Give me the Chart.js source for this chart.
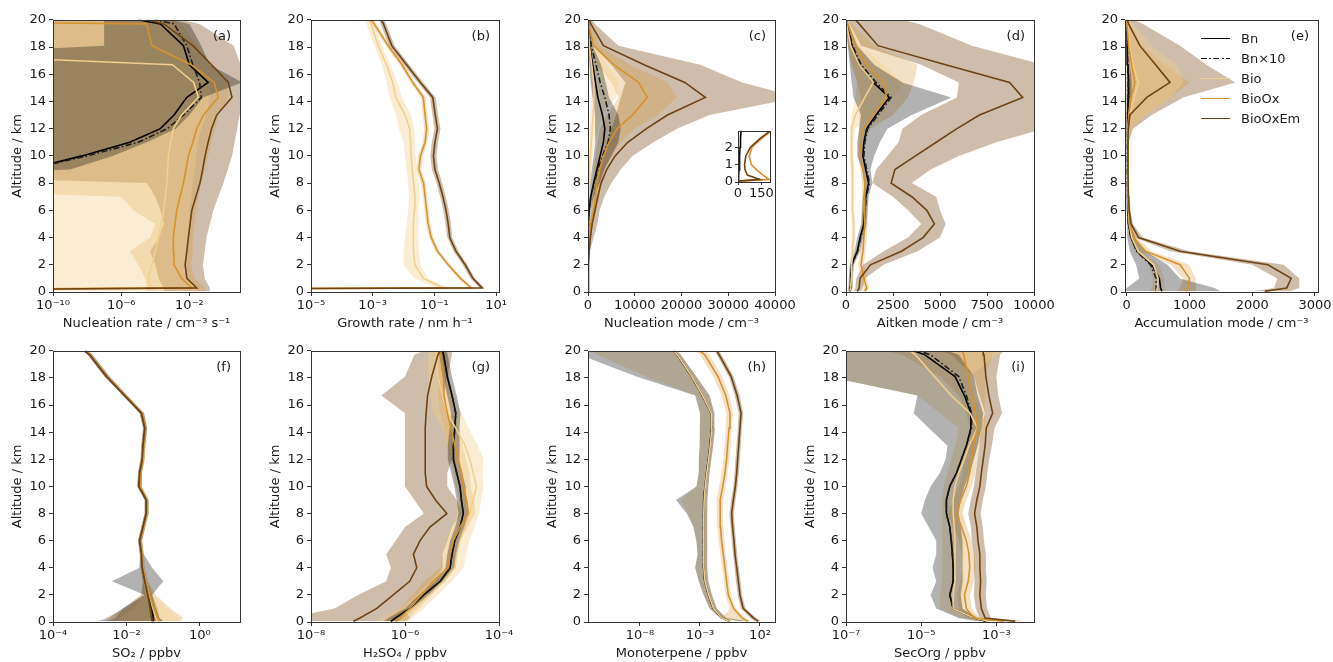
<!DOCTYPE html>
<html lang="en">
<head>
<meta charset="UTF-8">
<title>Vertical profiles</title>
<script src="https://cdn.jsdelivr.net/npm/chart.js"></script>
<style>
  html, body { margin: 0; background: #fff; overflow: hidden; }
  #fig { position: relative; width: 1333px; height: 662px; overflow: hidden; font-family: "DejaVu Sans", sans-serif; color: #1a1a1a; }
  #fig canvas { position: absolute; }
  .tag { position: absolute; width: 40px; text-align: right; font-size: 13px; line-height: 16px; }
  #legend { position: absolute; left: 1201px; top: 28px; font-size: 13px; }
  #legend .row { height: 20.2px; display: flex; align-items: center; white-space: nowrap; }
  #legend i { display: inline-block; width: 29px; margin-right: 11px; height: 0; }
  #legend i.dashdot { height: 1.5px; background: repeating-linear-gradient(to right, #1c1c1c 0 6px, transparent 6px 8.5px, #1c1c1c 8.5px 10px, transparent 10px 12.5px); }
</style>
</head>
<body>
<div id="fig"></div>
<script>
// model levels (km) shared by every profile
const ALT = [0.05, 0.3, 1, 2, 3, 4, 5, 6, 7, 8, 9, 10, 11, 12, 13, 14.3, 15.4, 16.7, 18.1, 19.7, 20];
// log10 value used where a profile drops to zero on a log axis
const O = -30;

// (a) nucleation rate, log10 cm-3 s-1
const aBn      = [O, O, O, O, O, O, O, O, O, O, -11.5, -8.3, -5.5, -3.7, -2.9, -2.15, -0.9, -2.0, -2.35, -3.7, -5.0];
const aBn10    = [O, O, O, O, O, O, O, O, O, O, -11.5, -8.0, -5.0, -3.3, -2.35, -1.3, -1.4, -1.8, -2.15, -2.9, -4.0];
const aBio     = [O, -4.3, -4.4, -4.2, -4.0, -3.8, -3.65, -3.5, -3.42, -3.33, -3.28, -3.23, -3.1, -2.94, -2.45, -1.47, -1.75, -3.0, O, O, O];
const aBioOx   = [O, -1.86, -2.45, -2.9, -2.92, -2.94, -2.85, -2.74, -2.55, -2.35, -2.2, -2.06, -1.8, -1.57, -1.18, -0.3, -0.55, -1.9, -4.2, -4.5, O];
const aBioOxEm = [O, -1.57, -2.15, -2.25, -2.15, -2.06, -1.96, -1.86, -1.62, -1.38, -1.22, -1.08, -0.9, -0.7, -0.4, 0.5, 0.28, -0.7, -1.8, -3.5, -4.5];
const aBnLo      = [O, O, O, O, O, O, O, O, O, O, O, O, O, O, O, O, O, O, -7, -7, -7];
const aBnHi      = [O, O, O, O, O, O, O, O, O, O, -9.0, -6.5, -4.5, -2.8, -2.0, -1.2, 1.1, -0.8, -1.3, -2.0, -3.0];
const aBioLo     = [O, O, O, O, O, O, O, O, O, O, O, O, O, O, O, O, O, O, O, O, O];
const aBioHi     = [-1.5, -1.6, -2.2, -2.2, -2.1, -2.1, -2.0, -2.0, -1.9, -1.8, -1.7, -1.6, -1.5, -1.3, -1.0, -0.8, -0.8, -1.8, -2.5, -3.0, -3.5];
const aBioOxLo   = [-4.5, -4.5, -4.6, -5.0, -5.5, -4.3, -4.0, -5.3, -6.0, O, O, O, O, O, O, O, O, O, O, O, O];
const aBioOxHi   = [-1.0, -1.1, -1.7, -1.9, -1.8, -1.8, -1.7, -1.6, -1.5, -1.3, -1.1, -0.9, -0.7, -0.5, -0.3, 0.3, 0.2, -0.7, -1.5, -2.5, -3.0];
const aBioOxEmLo = [-3.5, -3.5, -3.8, -4.0, -4.3, -3.8, -3.5, -3.7, -4.0, -4.5, O, O, O, O, O, O, O, O, O, O, O];
const aBioOxEmHi = [-0.8, -0.8, -1.1, -1.2, -1.1, -1.0, -0.8, -0.6, -0.3, 0.0, 0.25, 0.5, 0.65, 0.8, 0.95, 1.3, 1.3, 1.0, 0.6, -1.4, -2.5];

// (b) growth rate, log10 nm h-1
const bBio     = [O, -0.7, -1.36, -1.63, -1.68, -1.68, -1.68, -1.65, -1.63, -1.67, -1.72, -1.75, -1.77, -1.8, -1.95, -2.25, -2.35, -2.55, -2.82, -3.05, -3.12];
const bBioOx   = [O, 0.2, -0.15, -0.55, -0.9, -1.1, -1.2, -1.25, -1.3, -1.35, -1.5, -1.45, -1.3, -1.25, -1.3, -1.36, -1.7, -2.05, -2.5, -2.95, -3.05];
const bBioOxEm = [O, 0.55, 0.25, 0.0, -0.3, -0.5, -0.55, -0.62, -0.72, -0.84, -0.98, -1.03, -0.98, -0.9, -0.97, -1.05, -1.45, -1.9, -2.38, -2.65, -2.72];
const bBioLo     = [O, -0.9, -1.65, -2.0, -2.0, -1.95, -1.9, -1.85, -1.82, -1.85, -1.9, -1.95, -2.0, -2.15, -2.25, -2.45, -2.55, -2.7, -2.95, -3.2, -3.25];
const bBioHi     = [O, -0.5, -1.2, -1.45, -1.5, -1.52, -1.52, -1.5, -1.48, -1.5, -1.55, -1.6, -1.62, -1.65, -1.75, -2.05, -2.2, -2.42, -2.7, -2.95, -3.0];
const bBioOxLo   = [O, 0.12, -0.22, -0.62, -0.97, -1.17, -1.27, -1.32, -1.37, -1.43, -1.58, -1.53, -1.38, -1.33, -1.38, -1.44, -1.78, -2.13, -2.58, -3.03, -3.13];
const bBioOxHi   = [O, 0.27, -0.08, -0.48, -0.83, -1.03, -1.13, -1.18, -1.23, -1.28, -1.42, -1.37, -1.22, -1.17, -1.22, -1.28, -1.62, -1.97, -2.42, -2.87, -2.97];
const bBioOxEmLo = [O, 0.47, 0.17, -0.08, -0.38, -0.58, -0.64, -0.71, -0.81, -0.93, -1.08, -1.13, -1.08, -1.0, -1.06, -1.14, -1.54, -1.99, -2.47, -2.74, -2.81];
const bBioOxEmHi = [O, 0.62, 0.32, 0.07, -0.22, -0.42, -0.46, -0.53, -0.63, -0.75, -0.88, -0.93, -0.88, -0.8, -0.88, -0.96, -1.36, -1.81, -2.29, -2.56, -2.63];

// (c) nucleation mode, cm-3
const cBn      = [0, 3, 9, 13, 20, 40, 100, 250, 600, 1200, 1900, 2600, 3300, 3600, 3100, 2100, 1600, 1000, 400, 100, 30];
const cBn10    = [0, 3, 9, 13, 20, 40, 100, 250, 600, 1300, 2100, 3100, 4300, 4800, 4500, 3600, 2600, 1700, 700, 150, 50];
const cBio     = [0, 1, 2, 3, 10, 20, 50, 100, 150, 250, 350, 500, 700, 900, 1100, 1300, 1200, 800, 300, 50, 0];
const cBioOx   = [0, 180, 85, 90, 200, 300, 600, 1200, 1600, 1900, 2500, 3300, 4500, 6200, 9500, 12700, 10800, 5500, 1200, 150, 0];
const cBioOxEm = [0, 80, 42, 80, 250, 500, 900, 1500, 2100, 2800, 4000, 5800, 8500, 12500, 17000, 25100, 20700, 12000, 3300, 600, 300];
const cBnLo      = [0, 0, 0, 0, 0, 0, 50, 150, 300, 500, 800, 1200, 1500, 1600, 1500, 1000, 600, 300, 100, 0, 0];
const cBnHi      = [0, 10, 20, 30, 50, 100, 300, 600, 1200, 2500, 3500, 5000, 6500, 7000, 6500, 4500, 3800, 2800, 1000, 300, 100];
const cBioLo     = [0, 0, 0, 0, 0, 0, 0, 0, 50, 100, 150, 200, 300, 400, 500, 700, 600, 300, 100, 0, 0];
const cBioHi     = [0, 5, 10, 20, 40, 60, 100, 200, 300, 500, 700, 1000, 1500, 2200, 3000, 6000, 6500, 4000, 1500, 300, 50];
const cBioOxLo   = [0, 120, 50, 50, 100, 150, 300, 600, 800, 1000, 1200, 1600, 2000, 2500, 4000, 6500, 5000, 2000, 300, 0, 0];
const cBioOxHi   = [0, 250, 130, 140, 300, 500, 1000, 1800, 2400, 2800, 3500, 5000, 7000, 10000, 15000, 19000, 17000, 9000, 2500, 500, 100];
const cBioOxEmLo = [0, 40, 20, 40, 100, 100, 300, 700, 1000, 1500, 2000, 3000, 4000, 5000, 6000, 7000, 8000, 5000, 1000, 100, 0];
const cBioOxEmHi = [0, 150, 80, 150, 400, 1200, 2000, 2500, 3500, 5000, 7000, 9500, 14000, 19000, 26000, 45000, 33000, 24000, 6500, 1500, 800];

// (c) inset: lowest 3 km of the nucleation mode
const insAlt      = [0.05, 0.15, 0.4, 0.7, 1, 1.5, 2, 2.5, 3];
const insBn       = [0, 3, 5, 7, 9, 11, 13, 16, 20];
const insBio      = [0, 1, 1, 1, 2, 2, 3, 3, 4];
const insBioOx    = [0, 200, 160, 120, 85, 72, 90, 150, 220];
const insBioOxEm  = [0, 140, 60, 45, 42, 50, 80, 140, 215];

// (d) Aitken mode, cm-3
const dBn      = [200, 230, 250, 300, 600, 750, 950, 1000, 1050, 1200, 1050, 900, 950, 1100, 1600, 2300, 1450, 700, 300, 50, 0];
const dBn10    = [200, 230, 250, 320, 620, 780, 970, 1020, 1080, 1250, 1100, 950, 1000, 1150, 1700, 2400, 1600, 800, 350, 60, 0];
const dBio     = [200, 250, 280, 300, 350, 400, 400, 350, 350, 350, 330, 300, 300, 300, 500, 1000, 1450, 700, 250, 30, 0];
const dBioOx   = [1000, 1100, 950, 800, 900, 950, 1000, 1000, 1000, 1000, 900, 800, 800, 900, 1400, 2150, 2000, 1100, 500, 100, 0];
const dBioOxEm = [600, 700, 750, 1300, 2950, 4100, 4700, 4300, 3500, 2400, 2600, 3700, 4800, 5900, 7100, 9400, 8700, 5300, 1700, 700, 500];
const dBnLo      = [100, 130, 150, 200, 450, 600, 800, 850, 900, 1000, 850, 600, 600, 700, 800, 400, 300, 200, 100, 0, 0];
const dBnHi      = [300, 330, 350, 420, 750, 900, 1100, 1150, 1200, 1400, 1300, 1500, 1800, 2200, 3500, 5600, 3000, 1500, 600, 150, 50];
const dBioLo     = [100, 150, 180, 200, 250, 300, 300, 250, 250, 250, 230, 200, 200, 200, 300, 500, 600, 300, 100, 0, 0];
const dBioHi     = [300, 350, 380, 400, 450, 500, 500, 450, 450, 450, 430, 400, 400, 500, 1500, 2500, 3000, 2000, 700, 200, 50];
const dBioOxLo   = [850, 950, 800, 650, 750, 800, 850, 850, 850, 850, 750, 650, 650, 700, 700, 800, 600, 300, 100, 0, 0];
const dBioOxHi   = [1150, 1250, 1100, 950, 1050, 1100, 1150, 1150, 1150, 1150, 1050, 950, 1000, 1300, 2500, 3300, 3600, 3800, 1500, 300, 50];
const dBioOxEmLo = [400, 500, 550, 900, 2000, 3300, 4000, 3300, 2500, 1400, 1600, 2200, 2800, 3000, 4000, 5900, 6000, 4000, 800, 200, 100];
const dBioOxEmHi = [800, 900, 1000, 2000, 3800, 5000, 5300, 5000, 4800, 3500, 4500, 6000, 8000, 10500, 11000, 11000, 11000, 10500, 6700, 3900, 3000];

// (e) accumulation mode, cm-3
const eBn      = [560, 540, 520, 400, 170, 70, 30, 20, 15, 12, 12, 12, 12, 15, 20, 25, 30, 20, 10, 5, 0];
const eBn10    = [470, 470, 470, 380, 160, 65, 28, 18, 14, 11, 11, 11, 11, 14, 18, 22, 25, 18, 9, 4, 0];
const eBio     = [470, 490, 500, 430, 180, 80, 40, 30, 20, 15, 15, 15, 15, 20, 40, 120, 185, 100, 40, 10, 0];
const eBioOx   = [950, 980, 1000, 850, 300, 110, 50, 35, 25, 20, 20, 20, 20, 25, 30, 70, 130, 80, 30, 5, 0];
const eBioOxEm = [2200, 2550, 2620, 2250, 850, 190, 70, 40, 30, 25, 20, 20, 20, 25, 50, 320, 690, 460, 210, 30, 10];
const eBnLo      = [-50, 0, 200, 150, 50, 20, 10, 5, 5, 5, 5, 5, 5, 0, 0, 0, 0, 0, 0, 0, 0];
const eBnHi      = [1500, 1400, 850, 650, 300, 130, 60, 40, 30, 25, 25, 25, 25, 40, 60, 70, 80, 60, 30, 10, 5];
const eBioLo     = [350, 400, 420, 350, 120, 50, 20, 15, 10, 8, 8, 8, 8, 0, 0, 0, 0, 0, 0, 0, 0];
const eBioHi     = [600, 600, 600, 520, 250, 120, 60, 45, 35, 25, 25, 25, 25, 60, 300, 700, 900, 800, 400, 100, 20];
const eBioOxLo   = [800, 850, 900, 700, 220, 70, 30, 20, 15, 12, 12, 12, 12, 0, 0, 0, 0, 0, 0, 0, 0];
const eBioOxHi   = [1100, 1100, 1100, 1000, 400, 160, 70, 50, 40, 30, 30, 30, 30, 80, 300, 700, 1000, 600, 250, 50, 10];
const eBioOxEmLo = [2000, 2350, 2400, 2000, 700, 120, 40, 25, 20, 15, 12, 12, 12, 0, 0, 0, 0, 100, 50, 0, 0];
const eBioOxEmHi = [2600, 2750, 2750, 2500, 1000, 250, 100, 60, 45, 35, 30, 30, 30, 100, 400, 900, 1730, 1270, 850, 260, 100];

// (f) SO2, log10 ppbv
const fBn      = [-1.27, -1.27, -1.31, -1.4, -1.49, -1.56, -1.58, -1.63, -1.54, -1.45, -1.45, -1.65, -1.63, -1.56, -1.54, -1.49, -1.58, -2.04, -2.53, -2.99, -3.12];
const fBn10    = [-1.27, -1.27, -1.31, -1.4, -1.49, -1.56, -1.58, -1.63, -1.54, -1.45, -1.45, -1.65, -1.63, -1.56, -1.54, -1.49, -1.58, -2.04, -2.53, -2.99, -3.12];
const fBio     = [-1.15, -1.2, -1.28, -1.38, -1.48, -1.55, -1.57, -1.62, -1.53, -1.44, -1.44, -1.64, -1.62, -1.55, -1.53, -1.48, -1.57, -2.03, -2.52, -2.98, -3.11];
const fBioOx   = [-1.1, -1.15, -1.25, -1.38, -1.48, -1.55, -1.58, -1.62, -1.54, -1.45, -1.44, -1.64, -1.62, -1.56, -1.53, -1.48, -1.58, -2.04, -2.53, -2.99, -3.12];
const fBioOxEm = [-1.3, -1.32, -1.36, -1.42, -1.5, -1.57, -1.59, -1.64, -1.55, -1.46, -1.46, -1.66, -1.64, -1.57, -1.55, -1.5, -1.59, -2.05, -2.54, -3.0, -3.13];
const fBnLo      = [-2.8, -2.5, -2.1, -1.5, -2.4, -1.65, -1.63, -1.68, -1.59, -1.5, -1.5, -1.7, -1.68, -1.61, -1.59, -1.54, -1.64, -2.1, -2.6, -3.06, -3.2];
const fBnHi      = [-1.0, -1.1, -1.2, -1.3, -1.0, -1.3, -1.53, -1.58, -1.49, -1.4, -1.4, -1.6, -1.58, -1.51, -1.49, -1.44, -1.52, -1.98, -2.46, -2.92, -3.05];
const fBioLo     = [-2.0, -2.2, -1.8, -1.5, -1.55, -1.6, -1.62, -1.67, -1.58, -1.49, -1.49, -1.69, -1.67, -1.6, -1.58, -1.53, -1.62, -2.08, -2.57, -3.03, -3.16];
const fBioHi     = [-0.5, -0.6, -0.9, -1.25, -1.42, -1.5, -1.53, -1.57, -1.48, -1.39, -1.39, -1.59, -1.57, -1.5, -1.48, -1.43, -1.51, -1.97, -2.46, -2.92, -3.06];
const fBioOxLo   = [-2.2, -2.6, -2.0, -1.55, -1.55, -1.6, -1.63, -1.67, -1.59, -1.5, -1.49, -1.69, -1.67, -1.61, -1.58, -1.53, -1.63, -2.09, -2.58, -3.04, -3.17];
const fBioOxHi   = [-0.55, -0.45, -0.8, -1.2, -1.42, -1.5, -1.53, -1.57, -1.49, -1.4, -1.39, -1.59, -1.57, -1.51, -1.48, -1.43, -1.53, -1.99, -2.48, -2.94, -3.07];
const fBioOxEmLo = [-2.6, -2.3, -2.1, -1.6, -1.56, -1.62, -1.64, -1.69, -1.6, -1.51, -1.51, -1.71, -1.69, -1.62, -1.6, -1.55, -1.64, -2.1, -2.59, -3.05, -3.18];
const fBioOxEmHi = [-1.0, -1.1, -1.15, -1.3, -1.44, -1.52, -1.54, -1.59, -1.5, -1.41, -1.41, -1.61, -1.59, -1.52, -1.5, -1.45, -1.54, -2.0, -2.49, -2.95, -3.08];

// (g) H2SO4, log10 ppbv
const gBn      = [-6.3, -6.2, -5.9, -5.6, -5.25, -5.04, -5.0, -4.94, -4.83, -4.76, -4.8, -4.83, -4.9, -4.97, -4.97, -4.94, -4.92, -5.0, -5.1, -5.18, -5.2];
const gBn10    = [-6.3, -6.2, -5.9, -5.6, -5.25, -5.04, -5.0, -4.94, -4.83, -4.76, -4.8, -4.83, -4.9, -4.97, -4.97, -4.94, -4.92, -5.0, -5.1, -5.18, -5.2];
const gBio     = [-6.2, -6.1, -5.82, -5.47, -5.18, -4.94, -4.9, -4.83, -4.72, -4.62, -4.55, -4.48, -4.55, -4.62, -4.72, -4.92, -5.1, -5.2, -5.3, -5.33, -5.35];
const gBioOx   = [-6.2, -6.1, -5.9, -5.65, -5.4, -5.08, -5.04, -4.97, -4.83, -4.65, -4.69, -4.76, -4.8, -4.87, -4.94, -5.02, -5.1, -5.17, -5.18, -5.24, -5.28];
const gBioOxEm = [-7.1, -6.96, -6.6, -6.25, -5.9, -5.75, -5.82, -5.68, -5.47, -5.11, -5.35, -5.54, -5.57, -5.57, -5.57, -5.57, -5.55, -5.52, -5.43, -5.3, -5.25];
const gBnLo      = [-6.45, -6.35, -6.0, -5.7, -5.35, -5.14, -5.1, -5.04, -4.93, -4.86, -4.9, -4.95, -5.02, -5.09, -5.09, -5.05, -5.02, -5.1, -5.2, -5.27, -5.3];
const gBnHi      = [-6.15, -6.05, -5.8, -5.5, -5.15, -4.94, -4.9, -4.84, -4.73, -4.66, -4.7, -4.71, -4.78, -4.85, -4.85, -4.83, -4.82, -4.9, -5.0, -5.09, -5.1];
const gBioLo     = [-6.6, -6.5, -6.1, -5.75, -5.45, -5.2, -5.15, -5.1, -5.0, -4.9, -4.85, -4.8, -4.9, -5.0, -5.1, -5.2, -5.4, -5.45, -5.5, -5.5, -5.5];
const gBioHi     = [-5.9, -5.85, -5.6, -5.3, -5.0, -4.75, -4.7, -4.63, -4.52, -4.42, -4.38, -4.33, -4.35, -4.33, -4.45, -4.65, -4.8, -4.95, -5.1, -5.15, -5.2];
const gBioOxLo   = [-6.5, -6.4, -6.1, -5.85, -5.6, -5.25, -5.2, -5.12, -5.0, -4.82, -4.85, -4.92, -4.97, -5.03, -5.1, -5.18, -5.25, -5.3, -5.3, -5.35, -5.4];
const gBioOxHi   = [-5.95, -5.9, -5.7, -5.45, -5.2, -4.92, -4.88, -4.82, -4.67, -4.5, -4.53, -4.6, -4.63, -4.7, -4.78, -4.86, -4.95, -5.03, -5.05, -5.12, -5.15];
const gBioOxEmLo = [-8.5, -8.5, -7.5, -7.0, -6.4, -6.3, -6.4, -6.2, -6.0, -5.6, -5.8, -6.0, -6.0, -6.0, -6.0, -6.0, -6.0, -6.5, -6.0, -5.8, -5.6];
const gBioOxEmHi = [-6.0, -5.9, -6.0, -5.6, -5.3, -5.2, -5.2, -5.1, -5.0, -4.8, -4.9, -5.1, -5.1, -5.0, -5.0, -5.0, -5.1, -5.2, -5.1, -5.0, -5.0];

// (h) monoterpene, log10 ppbv
const hBn      = [-0.5, -1.2, -1.9, -2.3, -2.6, -2.7, -2.7, -2.7, -2.7, -2.7, -2.67, -2.58, -2.45, -2.3, -2.17, -2.03, -2.08, -2.8, -3.7, -4.9, -5.2];
const hBn10    = [-0.5, -1.2, -1.9, -2.3, -2.6, -2.7, -2.7, -2.7, -2.7, -2.7, -2.67, -2.58, -2.45, -2.3, -2.17, -2.03, -2.08, -2.8, -3.7, -4.9, -5.2];
const hBio     = [-0.5, -1.2, -1.88, -2.28, -2.58, -2.68, -2.68, -2.68, -2.68, -2.68, -2.65, -2.56, -2.43, -2.28, -2.15, -2.01, -2.06, -2.78, -3.68, -4.88, -5.18];
const hBioOx   = [1.0, 0.5, -0.2, -0.64, -0.78, -0.92, -1.06, -1.2, -1.28, -1.33, -1.3, -1.1, -0.92, -0.78, -0.7, -0.58, -0.5, -0.85, -1.5, -2.6, -3.0];
const hBioOxEm = [1.86, 1.44, 0.6, 0.33, 0.2, 0.06, -0.08, -0.17, -0.28, -0.36, -0.22, -0.05, 0.06, 0.14, 0.22, 0.33, 0.42, 0.1, -0.4, -1.4, -1.6];
const hBnLo      = [0.3, -1.3, -2.2, -2.7, -3.1, -3.4, -3.2, -3.3, -3.55, -4.1, -5.0, -3.3, -3.1, -3.1, -3.05, -3.0, -3.0, -3.4, -8.3, -13, -13];
const hBnHi      = [1.0, -0.8, -1.6, -2.0, -2.3, -2.4, -2.4, -2.4, -2.4, -2.4, -2.35, -2.3, -2.2, -2.05, -1.9, -1.75, -1.8, -2.2, -3.3, -4.6, -4.9];
const hBioLo     = [0.3, -1.3, -2.2, -2.7, -3.1, -3.4, -3.2, -3.3, -3.5, -4.0, -4.6, -3.3, -3.1, -3.1, -3.05, -3.0, -3.0, -3.3, -7.5, -11.5, -12];
const hBioHi     = [1.0, -0.8, -1.6, -2.0, -2.3, -2.4, -2.4, -2.4, -2.4, -2.4, -2.35, -2.3, -2.2, -2.05, -1.9, -1.75, -1.8, -2.2, -3.3, -4.6, -4.9];
const hBioOxLo   = [0.6, -1.2, -0.5, -0.9, -1.0, -1.15, -1.3, -1.45, -1.55, -1.6, -1.6, -1.4, -1.2, -1.05, -0.95, -0.85, -0.8, -1.2, -1.9, -3.0, -3.4];
const hBioOxHi   = [1.3, 0.8, 0.0, -0.4, -0.55, -0.7, -0.85, -0.95, -1.05, -1.1, -1.05, -0.85, -0.7, -0.55, -0.45, -0.35, -0.25, -0.55, -1.15, -2.2, -2.6];
const hBioOxEmLo = [1.6, 1.2, 0.4, 0.15, 0.0, -0.12, -0.25, -0.35, -0.45, -0.55, -0.4, -0.22, -0.12, -0.04, 0.04, 0.15, 0.22, -0.1, -0.6, -1.6, -1.8];
const hBioOxEmHi = [2.1, 1.7, 0.8, 0.5, 0.38, 0.24, 0.1, 0.0, -0.1, -0.18, -0.04, 0.12, 0.24, 0.32, 0.4, 0.5, 0.6, 0.3, -0.2, -1.2, -1.4];

// (i) secondary organics, log10 ppbv
const iBn      = [-3.27, -3.6, -4.15, -4.24, -4.15, -4.15, -4.17, -4.2, -4.24, -4.33, -4.33, -4.24, -4.06, -3.93, -3.8, -3.68, -3.68, -3.85, -4.1, -4.9, -5.2];
const iBn10    = [-3.27, -3.6, -4.15, -4.24, -4.15, -4.15, -4.17, -4.2, -4.24, -4.33, -4.33, -4.24, -4.06, -3.93, -3.8, -3.66, -3.66, -3.8, -4.0, -4.75, -5.05];
const iBio     = [-3.2, -3.6, -4.15, -4.15, -4.1, -4.1, -4.1, -4.1, -4.12, -4.15, -4.15, -4.1, -4.0, -3.85, -3.73, -3.5, -3.7, -4.2, -4.65, -5.15, -5.3];
const iBioOx   = [-2.8, -3.6, -3.8, -3.85, -3.75, -3.71, -3.73, -3.8, -3.93, -4.06, -3.95, -3.8, -3.71, -3.66, -3.62, -3.5, -3.56, -3.65, -3.75, -3.87, -3.9];
const iBioOxEm = [-2.5, -3.3, -3.4, -3.44, -3.42, -3.44, -3.44, -3.49, -3.52, -3.58, -3.52, -3.44, -3.4, -3.35, -3.3, -3.27, -3.1, -3.2, -3.28, -3.33, -3.35];
const iBnLo      = [-3.5, -4.0, -4.6, -4.75, -4.6, -4.7, -4.6, -4.6, -4.8, -5.0, -4.9, -4.75, -4.5, -4.35, -4.3, -4.8, -5.2, -5.1, -7.5, -7.5, -7.5];
const iBnHi      = [-2.5, -3.5, -3.9, -3.95, -3.9, -3.9, -3.9, -3.9, -3.95, -4.0, -3.95, -3.85, -3.7, -3.6, -3.5, -3.4, -3.35, -3.5, -3.6, -4.0, -4.3];
const iBioLo     = [-3.5, -4.0, -4.5, -4.5, -4.45, -4.45, -4.45, -4.45, -4.45, -4.45, -4.45, -4.4, -4.3, -4.2, -4.1, -4.0, -4.5, -5.1, -7.5, -7.5, -7.5];
const iBioHi     = [-2.5, -3.4, -3.9, -3.9, -3.85, -3.85, -3.85, -3.85, -3.85, -3.9, -3.9, -3.85, -3.75, -3.6, -3.5, -3.3, -3.4, -3.6, -3.7, -3.0, -2.8];
const iBioOxLo   = [-3.0, -3.8, -4.0, -4.05, -3.95, -3.9, -3.92, -4.0, -4.15, -4.3, -4.15, -4.0, -3.9, -3.85, -3.8, -3.7, -3.8, -4.0, -4.5, -5.5, -6.0];
const iBioOxHi   = [-2.5, -3.45, -3.65, -3.7, -3.6, -3.56, -3.58, -3.65, -3.78, -3.9, -3.8, -3.65, -3.56, -3.5, -3.45, -3.3, -3.3, -3.3, -3.3, -3.1, -3.0];
const iBioOxEmLo = [-2.7, -3.45, -3.55, -3.6, -3.58, -3.6, -3.6, -3.65, -3.68, -3.75, -3.68, -3.6, -3.55, -3.5, -3.45, -3.42, -3.3, -3.45, -3.6, -4.2, -4.5];
const iBioOxEmHi = [-2.2, -3.15, -3.25, -3.28, -3.26, -3.28, -3.28, -3.33, -3.36, -3.42, -3.36, -3.28, -3.24, -3.19, -3.12, -3.05, -2.85, -2.95, -3.0, -2.9, -2.8];

const Y_TICKS = [0, 2, 4, 6, 8, 10, 12, 14, 16, 18, 20];

const COLORS = { Bn: '#000000', Bn10: '#1c1c1c', Bio: '#f2cf8c', BioOx: '#d6922e', BioOxEm: '#6e4313' };
const SHADE = { Bn: 'rgba(0,0,0,0.3)', Bio: 'rgba(242,207,140,0.38)', BioOx: 'rgba(214,146,46,0.28)', BioOxEm: 'rgba(120,72,20,0.36)' };
// first dataset is drawn last, so BioOxEm ends up on top
const LINE_ORDER = ['BioOxEm', 'BioOx', 'Bio', 'Bn10', 'Bn'];

Chart.defaults.font.family = '"DejaVu Sans", sans-serif';
Chart.defaults.font.size = 13;
Chart.defaults.color = '#1a1a1a';

const YW = 47, XH = 41, PT = 10, PR = 24;
const fig = document.getElementById('fig');

// box around the plotting area, drawn over the data like matplotlib spines
const frame = {
  id: 'frame',
  afterDatasetsDraw(chart) {
    const { ctx, chartArea: a } = chart;
    ctx.save();
    ctx.strokeStyle = '#333';
    ctx.lineWidth = 1;
    ctx.strokeRect(Math.round(a.left) + 0.5, Math.round(a.top) + 0.5, Math.round(a.right - a.left), Math.round(a.bottom - a.top));
    ctx.restore();
  }
};

function profile(vals, alt, log) {
  return vals.map((v, i) => ({ x: log ? Math.pow(10, v) : v, y: alt[i] }));
}

function tickGrid(len) {
  return { display: true, drawOnChartArea: false, drawTicks: true, tickLength: len, color: '#333', lineWidth: 1 };
}

function addCanvas(left, top, w, h) {
  const cv = document.createElement('canvas');
  cv.width = w; cv.height = h;
  cv.style.left = left + 'px';
  cv.style.top = top + 'px';
  fig.appendChild(cv);
  return cv;
}

function buildDatasets(p, alt) {
  const datasets = [];
  LINE_ORDER.forEach(k => {
    if (!p.lines[k]) return;
    datasets.push({
      data: profile(p.lines[k], alt, p.log),
      borderColor: COLORS[k],
      borderWidth: 1.6,
      borderDash: k === 'Bn10' ? [6, 2.5, 1.5, 2.5] : [],
      pointRadius: 0,
      fill: false
    });
  });
  (p.bands || []).forEach(([k, lo, hi]) => {
    datasets.push({ data: profile(lo, alt, p.log), borderWidth: 0, borderColor: 'transparent', pointRadius: 0, fill: false });
    datasets.push({ data: profile(hi, alt, p.log), borderWidth: 0, borderColor: 'transparent', pointRadius: 0, fill: '-1', backgroundColor: SHADE[k] });
  });
  return datasets;
}

function panel(tag, box, p) {
  const [L, T, R, B] = box;
  const cv = addCanvas(L - YW, T - PT, R - L + YW + PR, B - T + PT + XH);

  new Chart(cv, {
    type: 'line',
    data: { datasets: buildDatasets(p, ALT) },
    options: {
      indexAxis: 'y',
      responsive: false,
      animation: false,
      events: [],
      layout: { padding: { top: PT, right: PR, left: 0, bottom: 0 } },
      plugins: { legend: { display: false }, tooltip: { enabled: false } },
      scales: {
        x: {
          type: p.log ? 'logarithmic' : 'linear',
          position: 'bottom',
          min: p.min, max: p.max, bounds: 'data',
          afterBuildTicks: s => { s.ticks = p.ticks.map(v => ({ value: v })); },
          afterFit: s => { s.height = XH; },
          grid: tickGrid(4),
          border: { display: false },
          ticks: { autoSkip: false, maxRotation: 0, minRotation: 0, padding: 2, callback: (v, i) => p.tickLabels[i] },
          title: { display: true, text: p.title, padding: { top: 0, bottom: 2 } }
        },
        y: {
          type: 'linear',
          position: 'left',
          min: 0, max: 20, bounds: 'data',
          afterBuildTicks: s => { s.ticks = Y_TICKS.map(v => ({ value: v })); },
          afterFit: s => { s.width = YW; },
          grid: tickGrid(4),
          border: { display: false },
          ticks: { autoSkip: false, padding: 3, callback: v => String(v) },
          title: { display: true, text: 'Altitude / km', padding: { top: 4, bottom: 0 } }
        }
      }
    },
    plugins: [frame]
  });

  const t = document.createElement('div');
  t.className = 'tag';
  t.textContent = tag;
  t.style.left = (R - 49) + 'px';
  t.style.top = (T + 9) + 'px';
  fig.appendChild(t);
}

function inset(box, p) {
  const [L, T, R, B] = box;
  const iw = 20, ih = 20, it = 7, ir = 10;
  const cv = addCanvas(L - iw, T - it, R - L + iw + ir, B - T + it + ih);
  new Chart(cv, {
    type: 'line',
    data: { datasets: buildDatasets(p, insAlt) },
    options: {
      indexAxis: 'y',
      responsive: false,
      animation: false,
      events: [],
      layout: { padding: { top: it, right: ir, left: 0, bottom: 0 } },
      plugins: { legend: { display: false }, tooltip: { enabled: false } },
      scales: {
        x: {
          type: 'linear', min: 0, max: 205, bounds: 'data',
          afterBuildTicks: s => { s.ticks = [0, 150].map(v => ({ value: v })); },
          afterFit: s => { s.height = ih; },
          grid: tickGrid(3), border: { display: false },
          ticks: { autoSkip: false, maxRotation: 0, padding: 1 }
        },
        y: {
          type: 'linear', min: 0, max: 2.95, bounds: 'data',
          afterBuildTicks: s => { s.ticks = [0, 1, 2].map(v => ({ value: v })); },
          afterFit: s => { s.width = iw; },
          grid: tickGrid(3), border: { display: false },
          ticks: { autoSkip: false, padding: 2 }
        }
      }
    },
    plugins: [frame]
  });
}

panel('(a)', [53, 19, 240, 292], {
  log: true, min: 1e-10, max: 9.3,
  ticks: [1e-10, 1e-6, 1e-2], tickLabels: ['10⁻¹⁰', '10⁻⁶', '10⁻²'],
  title: 'Nucleation rate / cm⁻³ s⁻¹',
  lines: { Bn: aBn, Bn10: aBn10, Bio: aBio, BioOx: aBioOx, BioOxEm: aBioOxEm },
  bands: [['Bn', aBnLo, aBnHi], ['Bio', aBioLo, aBioHi], ['BioOx', aBioOxLo, aBioOxHi], ['BioOxEm', aBioOxEmLo, aBioOxEmHi]]
});

panel('(b)', [311, 19, 499, 292], {
  log: true, min: 1e-5, max: 12.5,
  ticks: [1e-5, 1e-3, 1e-1, 1e1], tickLabels: ['10⁻⁵', '10⁻³', '10⁻¹', '10¹'],
  title: 'Growth rate / nm h⁻¹',
  lines: { Bio: bBio, BioOx: bBioOx, BioOxEm: bBioOxEm },
  bands: [['Bio', bBioLo, bBioHi], ['BioOx', bBioOxLo, bBioOxHi], ['BioOxEm', bBioOxEmLo, bBioOxEmHi]]
});

panel('(c)', [588, 19, 775, 292], {
  log: false, min: 0, max: 40000,
  ticks: [0, 10000, 20000, 30000, 40000], tickLabels: ['0', '10000', '20000', '30000', '40000'],
  title: 'Nucleation mode / cm⁻³',
  lines: { Bn: cBn, Bn10: cBn10, Bio: cBio, BioOx: cBioOx, BioOxEm: cBioOxEm },
  bands: [['Bn', cBnLo, cBnHi], ['Bio', cBioLo, cBioHi], ['BioOx', cBioOxLo, cBioOxHi], ['BioOxEm', cBioOxEmLo, cBioOxEmHi]]
});

inset([738, 128, 770, 182], {
  log: false,
  lines: { Bn: insBn, Bio: insBio, BioOx: insBioOx, BioOxEm: insBioOxEm }
});

panel('(d)', [846, 19, 1034, 292], {
  log: false, min: 0, max: 10000,
  ticks: [0, 2500, 5000, 7500, 10000], tickLabels: ['0', '2500', '5000', '7500', '10000'],
  title: 'Aitken mode / cm⁻³',
  lines: { Bn: dBn, Bn10: dBn10, Bio: dBio, BioOx: dBioOx, BioOxEm: dBioOxEm },
  bands: [['Bn', dBnLo, dBnHi], ['Bio', dBioLo, dBioHi], ['BioOx', dBioOxLo, dBioOxHi], ['BioOxEm', dBioOxEmLo, dBioOxEmHi]]
});

panel('(e)', [1125, 19, 1318, 292], {
  log: false, min: -27, max: 3048,
  ticks: [0, 1000, 2000, 3000], tickLabels: ['0', '1000', '2000', '3000'],
  title: 'Accumulation mode / cm⁻³',
  lines: { Bn: eBn, Bn10: eBn10, Bio: eBio, BioOx: eBioOx, BioOxEm: eBioOxEm },
  bands: [['Bn', eBnLo, eBnHi], ['Bio', eBioLo, eBioHi], ['BioOx', eBioOxLo, eBioOxHi], ['BioOxEm', eBioOxEmLo, eBioOxEmHi]]
});

panel('(f)', [53, 350, 240, 622], {
  log: true, min: 1e-4, max: 12.3,
  ticks: [1e-4, 1e-2, 1], tickLabels: ['10⁻⁴', '10⁻²', '10⁰'],
  title: 'SO₂ / ppbv',
  lines: { Bn: fBn, Bn10: fBn10, Bio: fBio, BioOx: fBioOx, BioOxEm: fBioOxEm },
  bands: [['Bn', fBnLo, fBnHi], ['Bio', fBioLo, fBioHi], ['BioOx', fBioOxLo, fBioOxHi], ['BioOxEm', fBioOxEmLo, fBioOxEmHi]]
});

panel('(g)', [311, 350, 499, 622], {
  log: true, min: 1e-8, max: 1e-4,
  ticks: [1e-8, 1e-6, 1e-4], tickLabels: ['10⁻⁸', '10⁻⁶', '10⁻⁴'],
  title: 'H₂SO₄ / ppbv',
  lines: { Bn: gBn, Bn10: gBn10, Bio: gBio, BioOx: gBioOx, BioOxEm: gBioOxEm },
  bands: [['Bn', gBnLo, gBnHi], ['Bio', gBioLo, gBioHi], ['BioOx', gBioOxLo, gBioOxHi], ['BioOxEm', gBioOxEmLo, gBioOxEmHi]]
});

panel('(h)', [588, 350, 775, 622], {
  log: true, min: 4.7e-13, max: 1780,
  ticks: [1e-8, 1e-3, 1e2], tickLabels: ['10⁻⁸', '10⁻³', '10²'],
  title: 'Monoterpene / ppbv',
  lines: { Bn: hBn, Bn10: hBn10, Bio: hBio, BioOx: hBioOx, BioOxEm: hBioOxEm },
  bands: [['Bn', hBnLo, hBnHi], ['Bio', hBioLo, hBioHi], ['BioOx', hBioOxLo, hBioOxHi], ['BioOxEm', hBioOxEmLo, hBioOxEmHi]]
});

panel('(i)', [846, 350, 1034, 622], {
  log: true, min: 1e-7, max: 1e-2,
  ticks: [1e-7, 1e-5, 1e-3], tickLabels: ['10⁻⁷', '10⁻⁵', '10⁻³'],
  title: 'SecOrg / ppbv',
  lines: { Bn: iBn, Bn10: iBn10, Bio: iBio, BioOx: iBioOx, BioOxEm: iBioOxEm },
  bands: [['Bn', iBnLo, iBnHi], ['Bio', iBioLo, iBioHi], ['BioOx', iBioOxLo, iBioOxHi], ['BioOxEm', iBioOxEmLo, iBioOxEmHi]]
});

// legend sits inside panel (e)
const legend = document.createElement('div');
legend.id = 'legend';
legend.innerHTML = [
  ['Bn', `border-top:1.6px solid ${COLORS.Bn}`, ''],
  ['Bn×10', '', 'dashdot'],
  ['Bio', `border-top:1.6px solid ${COLORS.Bio}`, ''],
  ['BioOx', `border-top:1.6px solid ${COLORS.BioOx}`, ''],
  ['BioOxEm', `border-top:1.6px solid ${COLORS.BioOxEm}`, '']
].map(([name, style, cls]) => `<div class="row"><i class="${cls}" style="${style}"></i>${name}</div>`).join('');
fig.appendChild(legend);
</script>
</body>
</html>
